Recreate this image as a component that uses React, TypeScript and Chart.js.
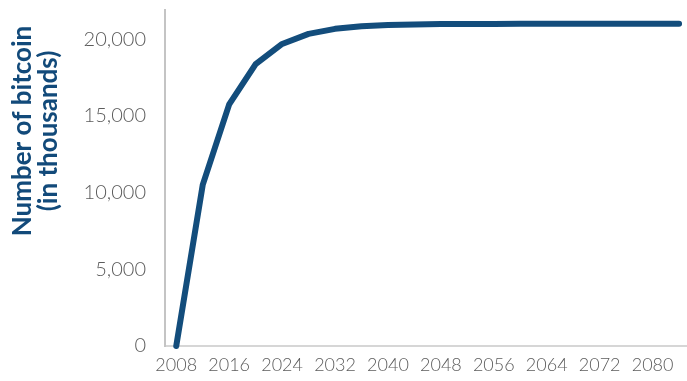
import React, { useEffect, useRef } from "react";
import { Chart, registerables } from "chart.js";

Chart.register(...registerables);

const years = [2008, 2012, 2016, 2020, 2024, 2028, 2032, 2036, 2040, 2044, 2048, 2052, 2056, 2060, 2064, 2068, 2072, 2076, 2080, 2084];
const bitcoinThousands = [0, 10500, 15750, 18375, 19688, 20344, 20672, 20836, 20918, 20959, 20980, 20990, 20995, 20997, 20999, 20999, 21000, 21000, 21000, 21000];
const xTickYears = [2008, 2016, 2024, 2032, 2040, 2048, 2056, 2064, 2072, 2080];
const yTickValues = [0, 5000, 10000, 15000, 20000];
const titleLines = ["Number of bitcoin", "(in thousands)"];

const LINE_COLOR = "#134d7c";
const TITLE_COLOR = "#124a7a";
const TICK_COLOR = "#5c5c5c";

const titlePlugin = {
  id: "sideTitle",
  afterDraw(chart: any) {
    const ctx = chart.ctx;
    ctx.save();
    ctx.translate(0, 131);
    ctx.rotate(-Math.PI / 2);
    ctx.fillStyle = TITLE_COLOR;
    ctx.font = "bold 26px Lato";
    ctx.textAlign = "center";
    ctx.textBaseline = "alphabetic";
    ctx.fillText(titleLines[0], 0, 31);
    ctx.fillText(titleLines[1], 0, 57);
    ctx.restore();
  },
};

export default function App() {
  const ref = useRef<HTMLCanvasElement>(null);
  useEffect(() => {
    if (!ref.current) return;
    const chart = new Chart(ref.current, {
      type: "line",
      data: {
        datasets: [
          {
            data: years.map((y, i) => ({ x: y, y: bitcoinThousands[i] })),
            borderColor: LINE_COLOR,
            borderWidth: 6,
            borderCapStyle: "round",
            borderJoinStyle: "round",
            pointRadius: 0,
            tension: 0,
            clip: false as any,
          },
        ],
      },
      options: {
        responsive: false,
        animation: false,
        layout: { padding: { top: 10, right: 0, left: 0, bottom: 0 } },
        plugins: { legend: { display: false }, tooltip: { enabled: false } },
        scales: {
          x: {
            type: "linear",
            min: 2006.3,
            max: 2085.2,
            afterBuildTicks: (s: any) => {
              s.ticks = xTickYears.map((v) => ({ value: v }));
            },
            afterFit: (s: any) => {
              s.height = 35;
              s.paddingLeft = 0;
              s.paddingRight = 0;
            },
            grid: { display: false, drawTicks: false },
            border: { display: true, color: "#d6d6d6", width: 2 },
            ticks: {
              autoSkip: false,
              maxRotation: 0,
              padding: 8,
              color: TICK_COLOR,
              font: { family: "Lato", size: 18, weight: "300" as any },
              callback: (v: any) => String(v),
            },
          },
          y: {
            type: "linear",
            min: 0,
            max: 21900,
            afterBuildTicks: (s: any) => {
              s.ticks = yTickValues.map((v) => ({ value: v }));
            },
            afterFit: (s: any) => {
              s.width = 165;
              s.paddingTop = 0;
              s.paddingBottom = 0;
            },
            grid: { display: false, drawTicks: false },
            border: { display: true, color: "#c4c4c4", width: 2 },
            ticks: {
              padding: 19,
              color: TICK_COLOR,
              font: { family: "Lato", size: 20, weight: "300" as any },
              callback: (v: any) => Number(v).toLocaleString("en-US"),
            },
          },
        },
      },
      plugins: [titlePlugin],
    });
    return () => chart.destroy();
  }, []);
  return (
    <div style={{ position: "fixed", left: 0, top: 0, width: 687, height: 381, background: "#fff" }}>
      <canvas ref={ref} width={687} height={381} style={{ display: "block" }} />
    </div>
  );
}
